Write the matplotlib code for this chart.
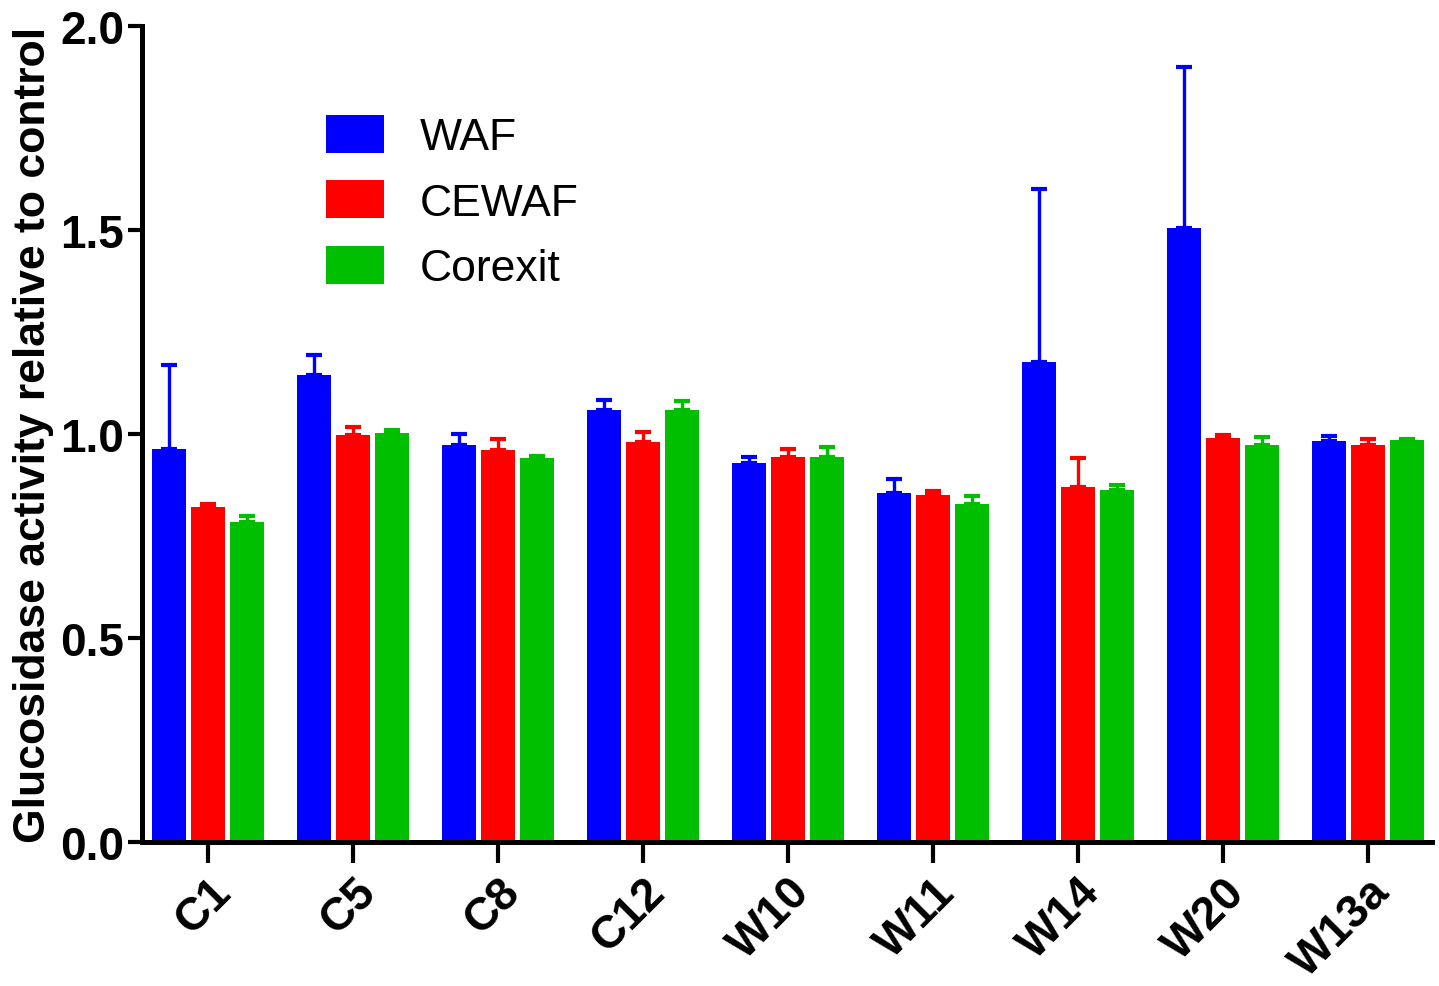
import numpy as np
import matplotlib
matplotlib.use("Agg")
import matplotlib.pyplot as plt

plt.rcParams['font.family'] = ['Liberation Sans', 'DejaVu Sans']

# mean activity relative to control, and top of the error bar, per sample
samples = ["C1", "C5", "C8", "C12", "W10", "W11", "W14", "W20", "W13a"]
waf = [0.963, 1.145, 0.973, 1.059, 0.929, 0.855, 1.176, 1.505, 0.983]
waf_top = [1.17, 1.194, 1.0, 1.083, 0.944, 0.89, 1.60, 1.90, 0.995]
cewaf = [0.82, 0.998, 0.961, 0.98, 0.944, 0.85, 0.87, 0.99, 0.973]
cewaf_top = [0.828, 1.017, 0.988, 1.005, 0.963, 0.86, 0.941, 0.998, 0.988]
corexit = [0.784, 1.002, 0.941, 1.059, 0.944, 0.828, 0.863, 0.973, 0.985]
corexit_top = [0.80, 1.01, 0.946, 1.081, 0.968, 0.848, 0.875, 0.993, 0.988]

series = [
    ("WAF", waf, waf_top, "#0000ff"),
    ("CEWAF", cewaf, cewaf_top, "#ff0000"),
    ("Corexit", corexit, corexit_top, "#00bf00"),
]

fig = plt.figure(figsize=(14.39, 9.87), dpi=100)
ax = fig.add_axes([0.0987, 0.146, 0.8963, 0.8266])

x = np.arange(len(samples))
width = 0.23
offsets = [-0.27, 0.0, 0.27]

for (name, vals, tops, color), off in zip(series, offsets):
    vals = np.array(vals)
    upper = np.array(tops) - vals
    ax.bar(x + off, vals, width, color=color, label=name, zorder=2)
    ax.errorbar(x + off, vals, yerr=[np.zeros_like(upper), upper], fmt="none",
                ecolor=color, elinewidth=2.4, capsize=6, capthick=3, zorder=1)

ax.set_xlim(-0.455, 8.44)
ax.set_ylim(0, 2.0)
ax.set_yticks([0.0, 0.5, 1.0, 1.5, 2.0])
ax.set_yticklabels(["0.0", "0.5", "1.0", "1.5", "2.0"], fontsize=33, fontweight="bold")
ax.set_xticks(x)
ax.set_xticklabels(samples, fontsize=33, fontweight="bold", rotation=45,
                   ha="right", rotation_mode="anchor")

for side in ["top", "right"]:
    ax.spines[side].set_visible(False)
for side in ["left", "bottom"]:
    ax.spines[side].set_linewidth(3.6)
ax.tick_params(axis="y", length=10, width=3, pad=3)
ax.tick_params(axis="x", length=15, width=3, pad=5)

ax.set_ylabel("Glucosidase activity relative to control", fontsize=32,
              fontweight="bold", labelpad=4)

ax.legend(loc="upper left", bbox_to_anchor=(0.112, 0.94), frameon=False,
          fontsize=32, handlelength=1.3, handleheight=0.93,
          labelspacing=0.5, handletextpad=0.8)

fig.savefig("out.png", dpi=100)
